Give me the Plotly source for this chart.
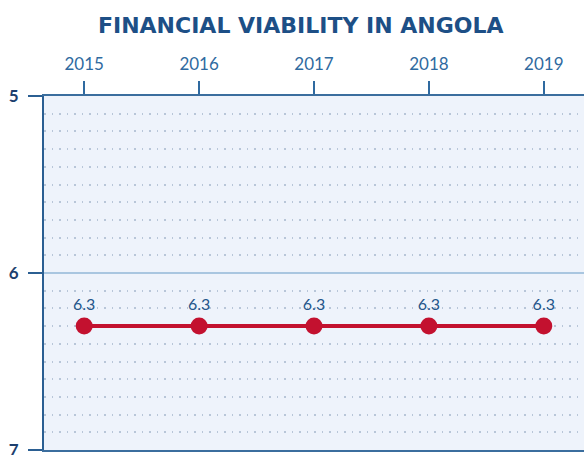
import plotly.graph_objects as go

years = [2015, 2016, 2017, 2018, 2019]
scores = [6.3, 6.3, 6.3, 6.3, 6.3]
labels = ["6.3", "6.3", "6.3", "6.3", "6.3"]
title = "FINANCIAL VIABILITY IN ANGOLA"

NAVY = "#1d4f86"
fig = go.Figure()
fig.add_trace(go.Scatter(
    x=years, y=scores, mode="lines+markers+text",
    text=labels, textposition="top center",
    textfont=dict(family="Lato", size=16, color="#24568a"),
    line=dict(color="#c3112f", width=4),
    marker=dict(color="#c3112f", size=17),
    cliponaxis=False, showlegend=False,
))

fig.update_layout(
    width=584, height=455,
    margin=dict(l=44, r=0, t=96, b=5, autoexpand=False),
    paper_bgcolor="white", plot_bgcolor="#eef3fb",
    title=dict(text="<b>" + title + "</b>", x=0.515, xanchor="center", y=0.945, yanchor="middle",
               font=dict(family="DejaVu Sans", size=22, color=NAVY)),
    xaxis=dict(
        side="top", range=[2014.65, 2019.35], tickvals=years,
        ticks="outside", ticklen=13, tickwidth=2, tickcolor="#2f6aa0",
        ticklabelstandoff=4,
        tickfont=dict(family="Lato", size=17, color="#2f6aa0"),
        showgrid=False, showline=True, linecolor="#3b6e9e", linewidth=2,
        zeroline=False, mirror=True, automargin=False,
    ),
    yaxis=dict(
        range=[7, 5], tickvals=[5, 6, 7],
        ticks="outside", ticklen=14, tickwidth=2, tickcolor="#2b5f92",
        ticklabelstandoff=6, ticklabeloverflow="allow",
        tickfont=dict(family="Lato", size=17, color="#1d3f6e", weight="bold"),
        showline=True, linecolor="#2b5f92", linewidth=2,
        showgrid=True, gridcolor="#a9c6e0", gridwidth=2,
        minor=dict(dtick=0.1, showgrid=True, gridcolor="#b8c6d8", gridwidth=1.5,
                   griddash="1.5px,6px"),
        zeroline=False, automargin=False,
    ),
)

fig.write_html("out.html", config={"displayModeBar": False},
               post_script="document.body.style.margin='0';document.body.style.overflow='hidden';")
